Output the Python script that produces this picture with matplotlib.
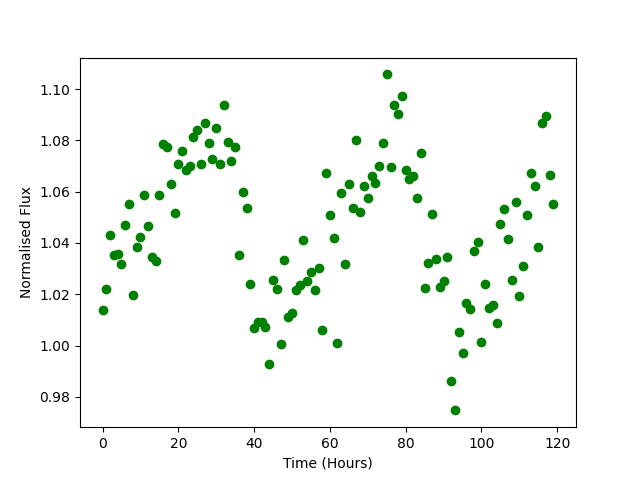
import numpy as np
import matplotlib
matplotlib.use("Agg")
import matplotlib.pyplot as plt

# normalised flux, one reading per hour
flux = [
    1.0137, 1.0221, 1.0429, 1.0351, 1.0355, 1.0316, 1.0468, 1.0550, 1.0198, 1.0386,
    1.0425, 1.0585, 1.0464, 1.0347, 1.0331, 1.0585, 1.0787, 1.0773, 1.0630, 1.0518,
    1.0709, 1.0760, 1.0685, 1.0701, 1.0812, 1.0841, 1.0709, 1.0868, 1.0790, 1.0728,
    1.0849, 1.0709, 1.0936, 1.0794, 1.0721, 1.0775, 1.0354, 1.0600, 1.0538, 1.0241,
    1.0069, 1.0091, 1.0091, 1.0071, 0.9929, 1.0257, 1.0221, 1.0007, 1.0334, 1.0113,
    1.0127, 1.0215, 1.0234, 1.0410, 1.0250, 1.0286, 1.0218, 1.0303, 1.0062, 1.0673,
    1.0510, 1.0420, 1.0011, 1.0596, 1.0319, 1.0630, 1.0538, 1.0803, 1.0521, 1.0620,
    1.0576, 1.0659, 1.0633, 1.0701, 1.0790, 1.1057, 1.0697, 1.0936, 1.0904, 1.0974,
    1.0683, 1.0650, 1.0659, 1.0577, 1.0751, 1.0225, 1.0323, 1.0511, 1.0338, 1.0227,
    1.0250, 1.0347, 0.9860, 0.9747, 1.0053, 0.9971, 1.0167, 1.0143, 1.0369, 1.0404,
    1.0014, 1.0241, 1.0147, 1.0159, 1.0089, 1.0475, 1.0533, 1.0416, 1.0256, 1.0560,
    1.0194, 1.0311, 1.0510, 1.0673, 1.0623, 1.0385, 1.0868, 1.0896, 1.0665, 1.0553,
]
time = np.arange(len(flux))

plt.figure(figsize=(6.4, 4.8), dpi=100)
plt.plot(time, flux, 'o', color='green')
plt.xlabel('Time (Hours)')
plt.ylabel('Normalised Flux')
plt.savefig('out.png')
